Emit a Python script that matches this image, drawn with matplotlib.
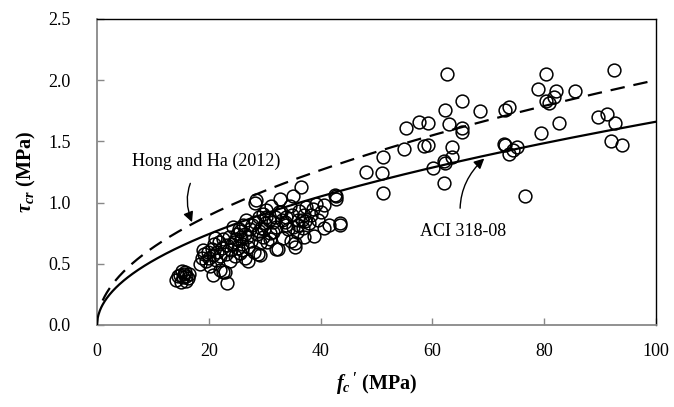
import numpy as np
import matplotlib
matplotlib.use("Agg")
import matplotlib.pyplot as plt

plt.rcParams["font.family"] = ["Liberation Serif", "DejaVu Serif"]
plt.rcParams["mathtext.fontset"] = "custom"
plt.rcParams["mathtext.rm"] = "Liberation Serif"
plt.rcParams["mathtext.it"] = "Liberation Serif:italic"
plt.rcParams["mathtext.bf"] = "Liberation Serif:bold"
plt.rcParams["mathtext.bfit"] = "Liberation Serif:italic:bold"

# Test data: concrete strength f'c (MPa) and cracking shear stress (MPa)
fc_test = [
    14.2, 14.5, 14.8, 15.0, 15.3, 15.6, 15.8, 16.0, 16.2, 16.5, 15.2, 16.0,
    18.4, 18.8, 19.0, 19.2, 19.5, 19.8, 20.0, 20.2, 20.5, 20.8, 20.8, 21.0,
    21.1, 21.3, 21.5, 21.8, 22.0, 22.0, 22.3, 22.6, 22.9, 22.5,
    23.2, 23.0, 23.3, 23.6, 23.8, 24.0, 24.3, 24.5, 24.7, 25.0, 25.2, 25.5,
    25.6, 25.8, 26.0, 26.2, 26.4, 26.7, 26.8, 27.0, 27.0, 27.3, 27.5,
    28.0, 28.2, 28.3, 28.5, 28.6, 28.8, 29.0, 29.1, 29.1, 29.4, 29.7, 29.7,
    30.0, 30.3, 30.5, 30.8, 31.0, 31.2, 31.5, 31.8, 32.1, 32.4, 32.7, 32.0,
    33.0, 33.3, 33.6, 33.9, 34.2, 34.5, 34.8, 35.1, 35.4, 35.4, 35.7, 35.9,
    36.2, 36.5, 36.8, 37.0, 37.4, 37.0,
    38.0, 38.3, 38.9, 39.2, 39.5, 40.0, 40.7, 40.7, 41.6, 42.5, 42.8, 42.8,
    43.4, 43.4,
    24.8, 25.4, 26.5, 27.8, 28.9, 30.2, 31.4, 32.6, 33.8, 34.9, 36.0, 37.2,
    24.2, 26.0, 29.9, 31.0, 33.1, 35.0, 36.6, 38.6,
    48.2, 51.0, 51.1, 51.1, 55.3, 55.0, 57.7, 59.2, 58.6, 59.2, 60.2,
    62.7, 62.3, 62.9, 63.5, 62.1, 62.3, 63.6, 62.1, 65.4, 65.4, 65.4, 68.5,
    73.8, 73.1, 72.9, 73.0, 75.2, 73.8, 74.5, 76.6,
    79.0, 80.3, 82.1, 85.5, 80.3, 80.9, 81.8, 82.6, 79.5,
    89.7, 91.3, 92.7, 91.9, 93.9, 92.5,
]
tau_test = [
    0.37, 0.40, 0.41, 0.35, 0.39, 0.42, 0.43, 0.40, 0.38, 0.42, 0.44, 0.36,
    0.50, 0.55, 0.61, 0.58, 0.52, 0.60, 0.55, 0.48, 0.62, 0.41, 0.57, 0.66,
    0.71, 0.53, 0.60, 0.68, 0.45, 0.56, 0.63, 0.43, 0.43, 0.70,
    0.34, 0.58, 0.65, 0.72, 0.52, 0.61, 0.80, 0.68, 0.56, 0.74, 0.63, 0.59,
    0.77, 0.70, 0.66, 0.82, 0.55, 0.86, 0.72, 0.52, 0.64, 0.78, 0.69,
    0.60, 1.00, 0.84, 1.02, 0.74, 0.58, 0.88, 0.57, 0.67, 0.79, 0.91, 0.72,
    0.83, 0.94, 0.68, 0.86, 0.75, 0.97, 0.76, 0.88, 0.62, 0.62, 1.03, 0.80,
    0.92, 0.71, 0.84, 0.88, 0.78, 0.97, 0.69, 1.05, 0.67, 0.64, 0.76, 0.86,
    0.93, 1.13, 0.79, 0.90, 0.96, 0.72,
    0.83, 0.90, 0.73, 0.99, 0.86, 0.92, 0.98, 0.79, 0.82, 1.06, 1.03, 1.05,
    0.83, 0.82,
    0.70, 0.78, 0.74, 0.82, 0.77, 0.88, 0.84, 0.92, 0.82, 0.90, 0.82, 0.85,
    0.66, 0.61, 0.78, 0.70, 0.86, 0.80, 0.86, 0.95,
    1.25, 1.24, 1.37, 1.08, 1.61, 1.44, 1.66, 1.65, 1.46, 1.47, 1.28,
    2.05, 1.76, 1.64, 1.45, 1.34, 1.32, 1.37, 1.16, 1.83, 1.61, 1.58, 1.75,
    1.78, 1.76, 1.48, 1.47, 1.45, 1.40, 1.43, 1.05,
    1.93, 2.05, 1.91, 1.91, 1.83, 1.81, 1.86, 1.65, 1.57,
    1.70, 1.72, 1.65, 1.50, 1.47, 2.08,
]

# Design equations: tau_cr = k * sqrt(f'c)
k_aci = 0.166      # ACI 318-08
k_hong = 0.20      # Hong and Ha (2012)
fc_curve = np.linspace(0, 100, 801)
fc_curve_hong = np.linspace(1, 100, 801)

x_ticks = [0, 20, 40, 60, 80, 100]
y_ticks = [0.0, 0.5, 1.0, 1.5, 2.0, 2.5]

fig = plt.figure(figsize=(6.74, 4.07), dpi=100)
ax = fig.add_axes([0.144, 0.2015, 0.829, 0.752])

ax.plot(fc_test, tau_test, linestyle="none", marker="o", ms=9.2,
        mfc="none", mec="black", mew=1.1, zorder=3)
ax.plot(fc_curve, k_aci * np.sqrt(fc_curve), color="black", lw=1.6, zorder=4)
ax.plot(fc_curve_hong, k_hong * np.sqrt(fc_curve_hong), color="black",
        lw=1.6, dashes=(6.5, 4.0), zorder=4)

ax.set_xlim(0, 100)
ax.set_ylim(0, 2.5)
ax.set_xticks(x_ticks)
ax.set_xticklabels([f"{v:d}" for v in x_ticks])
ax.set_yticks(y_ticks)
ax.set_yticklabels([f"{v:.1f}" for v in y_ticks])

gray = "#888888"
for side in ("left", "bottom"):
    ax.spines[side].set_color(gray)
    ax.spines[side].set_linewidth(1.3)
for side in ("top", "right"):
    ax.spines[side].set_color("black")
    ax.spines[side].set_linewidth(1.0)

ax.tick_params(axis="x", direction="in", length=5, width=1.0, color=gray,
               labelsize=13, pad=13)
ax.tick_params(axis="y", direction="in", length=5, width=1.0, color=gray,
               labelsize=13, pad=19)

ax.set_xlabel(r"$\mathbfit{f_c}$$\mathbf{\,'}$ (MPa)", fontsize=14.5,
              fontweight="bold", labelpad=8)
ax.set_ylabel(r"$\mathbfit{\tau_{cr}}$ (MPa)", fontsize=14.5,
              fontweight="bold", labelpad=7)

ax.annotate("Hong and Ha (2012)", xy=(17.0, 0.84), xytext=(19.6, 1.34),
            fontsize=13, ha="center", va="center",
            arrowprops=dict(arrowstyle="-|>", color="black", lw=1.0,
                            mutation_scale=15, shrinkA=9, shrinkB=0,
                            connectionstyle="arc3,rad=0.35"))
ax.annotate("ACI 318-08", xy=(69.3, 1.36), xytext=(65.5, 0.76),
            fontsize=13, ha="center", va="center",
            arrowprops=dict(arrowstyle="-|>", color="black", lw=1.0,
                            mutation_scale=15, shrinkA=9, shrinkB=0,
                            connectionstyle="arc3,rad=-0.3"))

fig.savefig("out.png", dpi=100, facecolor="white")
